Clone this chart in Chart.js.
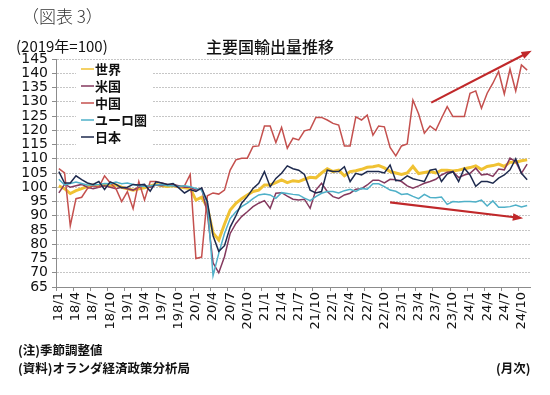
<!DOCTYPE html>
<html>
<head>
<meta charset="utf-8">
<script src="https://cdn.jsdelivr.net/npm/chart.js@4.4.1/dist/chart.umd.min.js"></script>
<style>
  body { margin: 0; background: #fff; }
  #wrap { position: relative; width: 550px; height: 395px; background: #fff; overflow: hidden; }
  #box { position: absolute; left: 0; top: 0; width: 550px; height: 395px; }
  .t { position: absolute; white-space: nowrap; color: #111; font-family: "Noto Sans CJK JP", sans-serif; }
</style>
</head>
<body>
<div id="wrap">
  <div id="box"><canvas id="chart"></canvas></div>
  <div class="t" style="left:22px;top:3px;font-size:17px;font-weight:300;color:#333;">（図表 3）</div>
  <div class="t" style="left:16px;top:35px;font-size:15px;">(2019年=100)</div>
  <div class="t" style="left:206px;top:34px;font-size:16px;font-weight:500;">主要国輸出量推移</div>
  <div class="t" style="left:18px;top:340px;font-size:12.5px;font-weight:700;">(注)季節調整値</div>
  <div class="t" style="left:18px;top:358px;font-size:12.5px;font-weight:700;">(資料)オランダ経済政策分析局</div>
  <div class="t" style="left:496px;top:358px;font-size:12.5px;font-weight:700;">(月次)</div>
</div>
<script>
// --- 1. カテゴリ (月次 18/1 〜 24/11) ---
const months = [];
for (let y = 18; y <= 24; y++) {
    for (let m = 1; m <= 12; m++) {
        if (y === 24 && m > 11) break;
        months.push(y + '/' + m);
    }
}

// --- 2. 系列データ (2019年=100) ---
const world = [100.5, 99.5, 97.8, 98.8, 99.5, 100.3, 100.8, 100.5, 100.8, 100.5,
    100.8, 100, 99.5, 99, 99.5, 99.8, 100.5, 101, 100.5, 100.3,
    100.5, 100.2, 99.8, 99.6, 95.5, 96.5, 93, 84, 81.5, 87,
    92, 94.4, 96, 97.3, 98.5, 99, 100.8, 100.8, 101.6, 102.6,
    101.6, 102.3, 102, 102.8, 103.5, 103.3, 105, 106.5, 105.5, 106,
    104, 105.5, 105.8, 106.3, 107, 107.2, 107.6, 106.8, 105.5, 105,
    104.5, 105, 107.3, 104.8, 105.2, 105.5, 105, 106, 106, 105.7,
    106, 106.5, 106.9, 107.5, 106.2, 107.3, 107.6, 108.1, 107.3, 108.8,
    108.8, 109.3, 109.6];

const us = [98, 101, 100, 100.5, 101, 100, 99.5, 100, 100.5, 100,
    99.5, 100, 99.5, 99, 100, 100.5, 100, 100.8, 100.5, 100.8,
    101, 100.5, 100, 100, 99, 99.6, 90.8, 73.5, 70, 75.6,
    83.8, 87.3, 89.7, 91.4, 93.2, 94.4, 95.3, 92.6, 97.9, 98.1,
    96.9, 95.8, 95.5, 95.8, 92.6, 99, 101.4, 98.5, 96.7, 96.1,
    97.3, 97.9, 99.3, 99.5, 100.8, 102.5, 102.5, 101.5, 102.8, 102.6,
    102, 100.5, 99.7, 100.5, 101.4, 102, 102.8, 104.3, 105.3, 105.5,
    103.4, 104.3, 104.9, 106.7, 104.3, 104.6, 103.8, 106.4, 106.1, 110.2,
    109, 104.9, 108.1];

const china = [106.5, 105, 86.5, 96, 96.5, 99.5, 100.5, 100, 104, 101.5,
    99.5, 95, 98.5, 92.5, 102, 95.5, 102, 102, 101.5, 101,
    100.5, 100, 100.5, 104.5, 75, 75.5, 97, 98, 97.6, 99,
    106, 109.6, 110.2, 110.2, 114.3, 114.5, 121.5, 121.5, 115.7, 121,
    113.7, 117.2, 116.6, 119.8, 120.3, 124.5, 124.5, 123.6, 122.4, 121.8,
    114.5, 114.5, 124.7, 123.6, 125.3, 118.3, 121.5, 121.2, 114, 111,
    114.5, 115.2, 130.6, 125.7, 119, 121.5, 120, 124.2, 128.3, 124.8,
    124.8, 124.8, 133, 133.8, 127.7, 133, 136.5, 140.6, 132.7, 141.5,
    133.8, 142.9, 141.1];

const euro = [102.8, 100.8, 101.3, 101.8, 101.3, 100.8, 100.8, 101, 101.3, 101.2,
    101.8, 101.2, 101.5, 101, 100.5, 100.3, 100.5, 100.8, 101, 100.5,
    100.5, 100.3, 100.5, 100.2, 99.6, 99, 94.5, 69, 76.8, 83.8,
    89, 91.4, 93.2, 94.4, 96, 97.3, 97.6, 97.3, 96.1, 98.1,
    97.8, 97.5, 97.3, 96.2, 95.3, 96.7, 97.9, 98.5, 98.5, 98,
    98.8, 99.3, 98.5, 99.6, 99.3, 101.2, 101.2, 100.2, 99, 98.6,
    97.5, 97.7, 96.8, 96, 97.5, 96.4, 96.3, 96.6, 94, 95,
    94.8, 95, 95, 94.8, 95.5, 93.4, 95.2, 93, 93, 93.2,
    93.8, 93.1, 93.6];

const japan = [105.5, 101.5, 101.5, 104, 102.7, 101.5, 101, 102, 99.2, 101.9,
    101, 99.8, 100, 101, 100.8, 101, 98.6, 101.9, 101.5, 101,
    101.3, 99.8, 98, 99.2, 98.5, 99.8, 95, 83, 77.5, 79.5,
    86, 90, 94.4, 96.7, 99.6, 101.4, 105.5, 100.2, 103.1, 104.9,
    107.5, 106.5, 106, 104.5, 99, 98, 98.5, 106, 105.5, 105.5,
    107.2, 102, 104.9, 104.3, 105.5, 105.5, 105.5, 105, 107.8, 102.3,
    102.5, 104, 103, 102.5, 102, 106, 106.4, 102, 104.6, 105.5,
    102, 106.7, 104.3, 100.3, 102, 102, 101.4, 103.2, 104.3, 106.1,
    110, 104.9, 102.6];

// 縦軸の範囲
const Y_MIN = 65, Y_MAX = 145, Y_STEP = 5;

// 傾向を示す矢印 (x = 月のインデックス, y = 指数値)
const trendArrows = [
    { from: [65.2, 129.7], to: [82.8, 147.9] },
    { from: [58, 94.7], to: [81.3, 89.1] }
];

// --- 3. 凡例 (グラフ内に白い箱で描く) ---
const legendBox = {
    id: 'legendBox',
    afterDatasetsDraw(chart) {
        const { ctx, chartArea } = chart;
        const x0 = chartArea.left + 24, y0 = chartArea.top + 10;
        ctx.save();
        ctx.fillStyle = '#fff';
        ctx.fillRect(x0 - 4, y0 - 8, 76, 84);
        ctx.font = 'bold 13px "Noto Sans CJK JP"';
        ctx.textBaseline = 'middle';
        chart.data.datasets.forEach((ds, i) => {
            const y = y0 + i * 17;
            ctx.strokeStyle = ds.borderColor;
            ctx.lineWidth = 1.5;
            ctx.beginPath();
            ctx.moveTo(x0 + 1, y);
            ctx.lineTo(x0 + 14, y);
            ctx.stroke();
            ctx.fillStyle = '#111';
            ctx.fillText(ds.label, x0 + 15, y);
        });
        ctx.restore();
    }
};

// --- 4. 矢印 ---
const arrowPlugin = {
    id: 'arrows',
    afterDatasetsDraw(chart) {
        const { ctx, scales } = chart;
        ctx.save();
        ctx.strokeStyle = '#c0282a';
        ctx.fillStyle = '#c0282a';
        ctx.lineWidth = 2.2;
        trendArrows.forEach(a => {
            const x1 = scales.x.getPixelForValue(a.from[0]);
            const y1 = scales.y.getPixelForValue(a.from[1]);
            const x2 = scales.x.getPixelForValue(a.to[0]);
            const y2 = scales.y.getPixelForValue(a.to[1]);
            const ang = Math.atan2(y2 - y1, x2 - x1);
            const head = 11;
            ctx.beginPath();
            ctx.moveTo(x1, y1);
            ctx.lineTo(x2 - Math.cos(ang) * head * 0.8, y2 - Math.sin(ang) * head * 0.8);
            ctx.stroke();
            ctx.beginPath();
            ctx.moveTo(x2, y2);
            ctx.lineTo(x2 - head * Math.cos(ang - 0.35), y2 - head * Math.sin(ang - 0.35));
            ctx.lineTo(x2 - head * Math.cos(ang + 0.35), y2 - head * Math.sin(ang + 0.35));
            ctx.closePath();
            ctx.fill();
        });
        ctx.restore();
    }
};

function makeLine(label, data, color, width, order) {
    return {
        label: label,
        data: data,
        borderColor: color,
        backgroundColor: color,
        borderWidth: width,
        pointRadius: 0,
        tension: 0,
        fill: false,
        order: order
    };
}

// --- 5. グラフ本体 ---
const ctx = document.getElementById('chart').getContext('2d');
new Chart(ctx, {
    type: 'line',
    data: {
        labels: months,
        datasets: [
            makeLine('世界', world, '#f0c233', 3, 5),
            makeLine('米国', us, '#84395e', 1.5, 4),
            makeLine('中国', china, '#c4504e', 1.5, 3),
            makeLine('ユーロ圏', euro, '#4fb0c8', 1.5, 2),
            makeLine('日本', japan, '#1e2a4e', 1.5, 1)
        ]
    },
    plugins: [legendBox, arrowPlugin],
    options: {
        responsive: true,
        maintainAspectRatio: false,
        animation: false,
        layout: { padding: { top: 59, right: 20, bottom: 48, left: 0 } },
        plugins: {
            legend: { display: false },
            title: { display: false },
            tooltip: { enabled: false }
        },
        scales: {
            x: {
                type: 'category',
                offset: true,
                afterFit: s => { s.height = 60; },
                grid: {
                    offset: true,
                    drawOnChartArea: false,
                    drawTicks: true,
                    tickLength: 4,
                    color: c => (c.index % 3 === 0 ? '#8c8c8c' : 'rgba(0,0,0,0)')
                },
                border: { display: true, color: '#8c8c8c', width: 1 },
                ticks: {
                    autoSkip: false,
                    minRotation: 90,
                    maxRotation: 90,
                    padding: 1,
                    color: '#111',
                    font: { family: 'DejaVu Sans', size: 13 },
                    callback: (v, i) => (i % 3 === 0 ? months[i] : '')
                }
            },
            y: {
                min: Y_MIN,
                max: Y_MAX,
                afterFit: s => { s.width = 56; },
                grid: {
                    color: '#c6c6c6',
                    lineWidth: 1,
                    tickLength: 4,
                    tickColor: '#8c8c8c'
                },
                border: { display: true, color: '#8c8c8c', dash: [2, 1] },
                ticks: {
                    stepSize: Y_STEP,
                    autoSkip: false,
                    padding: 4,
                    color: '#111',
                    font: { family: 'DejaVu Sans', size: 14 }
                }
            }
        }
    }
});
</script>
</body>
</html>
